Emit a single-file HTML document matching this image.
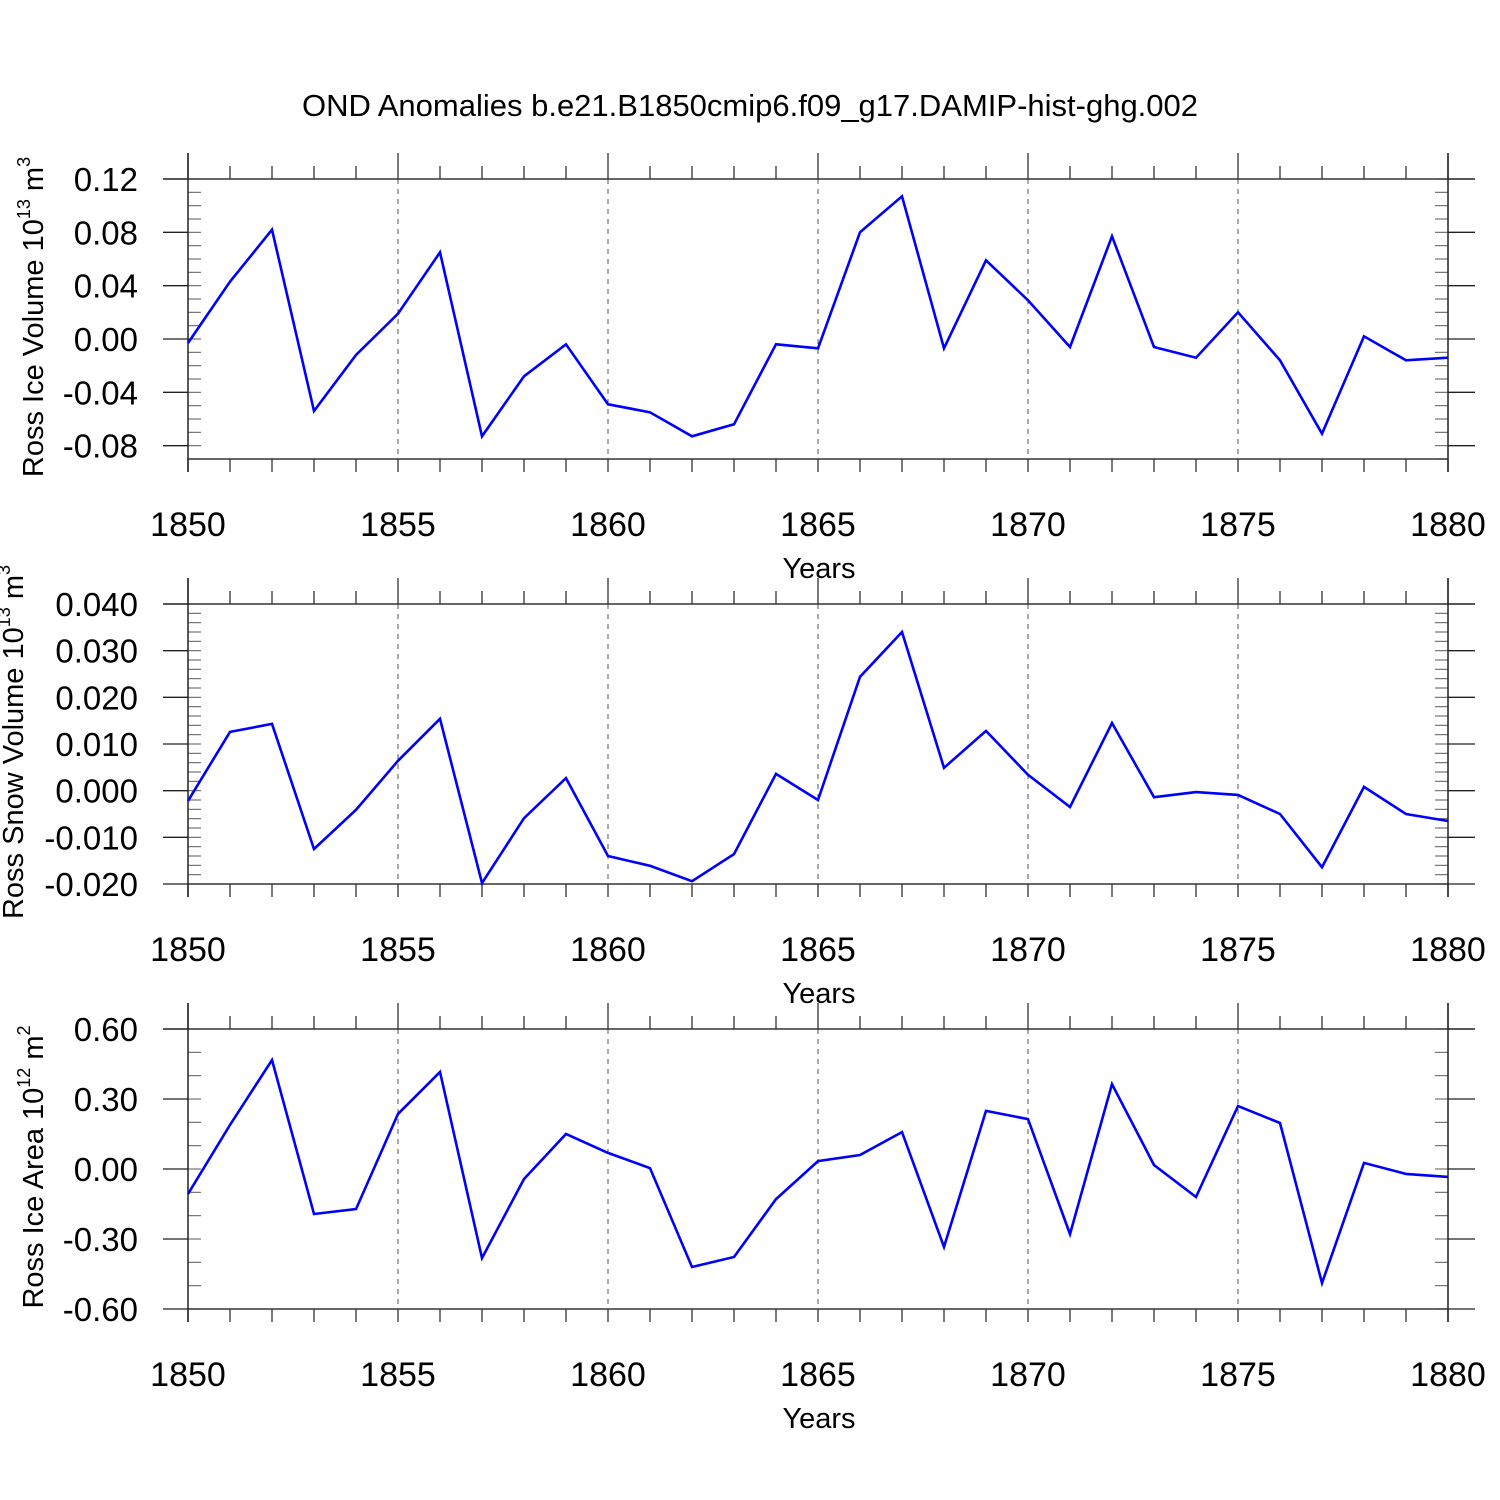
<!DOCTYPE html>
<html><head><meta charset="utf-8"><style>
html,body{margin:0;padding:0;background:#fff;}
svg{display:block;font-family:"Liberation Sans",sans-serif;}
</style></head><body>
<svg id="chart" width="1500" height="1500" viewBox="0 0 1500 1500">
<text x="750" y="116" font-size="31" text-anchor="middle">OND Anomalies b.e21.B1850cmip6.f09_g17.DAMIP-hist-ghg.002</text>
</svg>
<script>
const years = [1850,1851,1852,1853,1854,1855,1856,1857,1858,1859,1860,1861,1862,1863,1864,1865,1866,1867,1868,1869,1870,1871,1872,1873,1874,1875,1876,1877,1878,1879,1880];
const iceVolume = [-0.003,0.043,0.082,-0.054,-0.012,0.019,0.065,-0.073,-0.028,-0.004,-0.049,-0.055,-0.073,-0.064,-0.004,-0.007,0.080,0.107,-0.007,0.059,0.029,-0.006,0.077,-0.006,-0.014,0.020,-0.016,-0.071,0.002,-0.016,-0.014];
const snowVolume = [-0.0022,0.0126,0.0143,-0.0125,-0.0041,0.0064,0.0154,-0.0198,-0.0059,0.0027,-0.014,-0.0161,-0.0194,-0.0136,0.0036,-0.002,0.0244,0.034,0.0049,0.0128,0.0034,-0.0035,0.0145,-0.0014,-0.0003,-0.0009,-0.005,-0.0164,0.0008,-0.005,-0.0065];
const iceArea = [-0.107,0.189,0.467,-0.193,-0.172,0.236,0.416,-0.382,-0.043,0.15,0.069,0.004,-0.42,-0.377,-0.129,0.034,0.06,0.158,-0.334,0.249,0.214,-0.279,0.364,0.017,-0.12,0.27,0.197,-0.489,0.026,-0.021,-0.034];
const xTickLabels = ["1850","1855","1860","1865","1870","1875","1880"];
const iceVolTicks = ["0.12","0.08","0.04","0.00","-0.04","-0.08"];
const snowTicks = ["0.040","0.030","0.020","0.010","0.000","-0.010","-0.020"];
const areaTicks = ["0.60","0.30","0.00","-0.30","-0.60"];

const NS="http://www.w3.org/2000/svg";
const svg=document.getElementById('chart');
function mk(tag,attrs,parent){const e=document.createElementNS(NS,tag);for(const k in attrs)e.setAttribute(k,attrs[k]);(parent||svg).appendChild(e);return e;}
const X0=188,X1=1448;
function xs(y){return X0+(y-1850)/(1880-1850)*(X1-X0);}

const panels=[
 {name:'ice-volume',top:179,bot:459,vmax:0.12,vmin:-0.09,ticks:iceVolTicks,nminor:21,data:iceVolume,title:'Ross Ice Volume 10',sup:'13',unit:' m',usup:'3',tx:43},
 {name:'snow-volume',top:604,bot:884,vmax:0.04,vmin:-0.02,ticks:snowTicks,nminor:30,data:snowVolume,title:'Ross Snow Volume 10',sup:'13',unit:' m',usup:'3',tx:23},
 {name:'ice-area',top:1029,bot:1309,vmax:0.6,vmin:-0.6,ticks:areaTicks,nminor:12,data:iceArea,title:'Ross Ice Area 10',sup:'12',unit:' m',usup:'2',tx:43}
];
panels.forEach(p=>{
 const g=mk('g',{});
 
 
 const ys=v=>p.top+(p.vmax-v)/(p.vmax-p.vmin)*(p.bot-p.top);
 for(let yr=1855;yr<1880;yr+=5){
  const l=mk('line',{x1:xs(yr),x2:xs(yr),y1:p.top,y2:p.bot,stroke:'#555','stroke-width':1,'stroke-dasharray':'5,5'},g);
  
  
 }
 for(let yr=1850;yr<=1880;yr++){
  const major=yr%5===0;
  const len=major?26:13;
  mk('line',{x1:xs(yr),x2:xs(yr),y1:p.top-len,y2:p.top,stroke:'#333','stroke-width':1.3},g);
  mk('line',{x1:xs(yr),x2:xs(yr),y1:p.bot,y2:p.bot+13,stroke:'#333','stroke-width':1.3},g);
 }
 for(let i=0;i<=p.nminor;i++){
  const y=p.top+i*(p.bot-p.top)/p.nminor;
  mk('line',{x1:X0,x2:X0+13,y1:y,y2:y,stroke:'#666','stroke-width':1.1},g);
  mk('line',{x1:X1-13,x2:X1,y1:y,y2:y,stroke:'#666','stroke-width':1.1},g);
 }
 p.ticks.forEach(t=>{
  const v=parseFloat(t),y=ys(v);
  mk('line',{x1:X0-25,x2:X0,y1:y,y2:y,stroke:'#222','stroke-width':1.3},g);
  mk('line',{x1:X1,x2:X1+27,y1:y,y2:y,stroke:'#222','stroke-width':1.3},g);
  const tx=mk('text',{x:138,y:y+12,'font-size':33,'text-anchor':'end'},g);
  tx.textContent=t;
  
  
 });
 mk('line',{x1:X0-25,x2:X1+27,y1:p.top,y2:p.top,stroke:'#333','stroke-width':1.5},g);
 mk('line',{x1:X0,x2:X1,y1:p.bot,y2:p.bot,stroke:'#333','stroke-width':1.5},g);
 mk('line',{x1:X0,x2:X0,y1:p.top-26,y2:p.bot+13,stroke:'#222','stroke-width':1.5},g);
 mk('line',{x1:X1,x2:X1,y1:p.top-26,y2:p.bot+13,stroke:'#222','stroke-width':1.5},g);
 xTickLabels.forEach(t=>{
  const tx=mk('text',{x:xs(+t),y:p.bot+77,'font-size':34,'text-anchor':'middle'},g);
  tx.textContent=t;
  
  
 });
 const xt=mk('text',{x:819,y:p.bot+119,'font-size':29,'text-anchor':'middle'},g);
 xt.textContent='Years';
 
 
 const cy=(p.top+p.bot)/2-2;
 const yt=mk('text',{x:0,y:0,'font-size':29,'text-anchor':'middle',transform:'translate('+p.tx+','+cy+') rotate(-90)'},g);
 
 
 yt.appendChild(document.createTextNode(p.title));
 const s1=mk('tspan',{'font-size':18,dy:-13},yt);s1.textContent=p.sup;
 const s2=mk('tspan',{dy:13},yt);s2.textContent=p.unit;
 const s3=mk('tspan',{'font-size':18,dy:-13},yt);s3.textContent=p.usup;
 const pts=p.data.map((v,i)=>xs(years[i]).toFixed(1)+','+ys(v).toFixed(1)).join(' ');
 const pl=mk('polyline',{points:pts,fill:'none',stroke:'#0000ff','stroke-width':2.6,'stroke-linejoin':'miter'},g);
 
 
});
</script>
</body></html>
